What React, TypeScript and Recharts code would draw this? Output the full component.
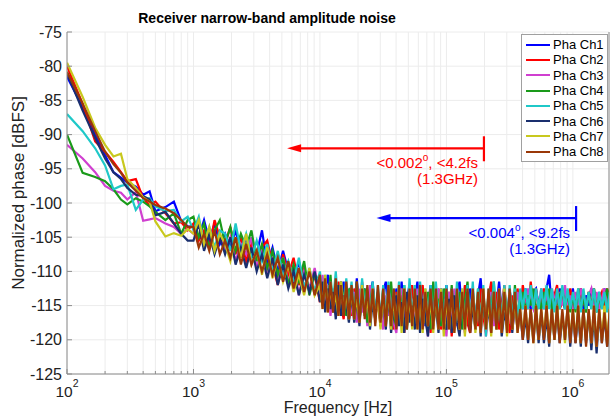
import {
  CartesianGrid,
  Legend,
  Line,
  LineChart,
  ReferenceLine,
  XAxis,
  YAxis,
} from "recharts";

const FONT = "'Liberation Sans', Arial, Helvetica, sans-serif";
const AXIS = "#8c8c8c";
const TEXT = "#222";

// FFT bin frequencies [Hz]: sparse low bins, 24 bins/decade up to 10 kHz, 48 bins/decade above
const FREQ_LOW = [100, 133, 167, 200, 233, 267, 300, 350, 400, 450, 500, 600, 700, 800, 900];
const BIN_MANTISSA = [
  1, 1.049, 1.101, 1.155, 1.212, 1.271, 1.334, 1.4, 1.468, 1.54, 1.616, 1.695,
  1.778, 1.866, 1.957, 2.054, 2.154, 2.26, 2.371, 2.487, 2.61, 2.738, 2.873, 3.014,
  3.162, 3.318, 3.481, 3.652, 3.831, 4.019, 4.217, 4.424, 4.642, 4.87, 5.109, 5.36,
  5.623, 5.9, 6.19, 6.494, 6.813, 7.148, 7.499, 7.868, 8.254, 8.66, 9.085, 9.532,
];
const F_MIN = 100;
const F_MAX = 1.93e6;

const FREQ = [
  ...FREQ_LOW,
  ...BIN_MANTISSA.filter((_, k) => k % 2 === 0).map((m) => m * 1e3),
  ...[1e4, 1e5, 1e6].flatMap((d) => BIN_MANTISSA.map((m) => m * d)),
].filter((f) => f <= 1.96e6);

// Normalized phase [dBFS] per channel
const CH1 = [
  -81.5, -86, -90, -93, -95.5, -96.3, -97.0, -97.6, -98.8, -98.3, -101.2, -100.6, -99.8, -102.7, -103.4,
  -103.5, -105, -102.5, -105.5, -103, -106, -104.5, -106.5, -104, -107.5, -105, -108,
  -107.5, -104, -109, -106.5, -110, -107, -110, -111.5, -108.5, -112.5, -110, -113,
  -111, -114.5, -112.5, -110.5, -115, -113, -116, -112, -114.5, -111.5, -116, -113.5,
  -112, -115.5, -111, -116.5, -114, -112.5, -117, -113.5, -111.5, -116, -114.5, -117.5,
  -113, -111.5, -116.5, -114, -118, -112.5, -115.5, -111.5, -117, -114, -112, -117.5,
  -114, -111.5, -117, -113, -118, -115, -112, -116.5, -113.5, -118.5, -112.5, -115.5,
  -112, -117, -114.5, -118.5, -113, -111.5, -116.5, -113.5, -118, -112.5, -115, -117.5,
  -113.5, -111, -116.5, -118, -114, -112, -117.5, -115, -111.5, -116, -113, -118,
  -112.5, -116.5, -114, -117.5, -113, -115.5, -112.5, -114.5, -115.5, -113, -112.5, -115,
  -113.5, -115.5, -112.5, -110.5, -115.5, -113, -115, -112.5, -114, -115.5, -113, -115,
  -112.5, -115.5, -114, -112.5, -115.5, -113.5, -115, -112.5, -114.5, -115.5, -113, -115, -112.5, -115.5, -114,
];
const CH2 = [
  -80, -85.5, -91, -92.5, -94, -95.5, -96.8, -96.5, -99.3, -100.3, -99.8, -101.5, -103, -102.8, -104,
  -103, -105.5, -104, -106.5, -102.5, -105, -106, -103.5, -107.5, -105, -108.5, -106,
  -108, -106.5, -105.5, -109, -112, -107.5, -110.5, -108, -112, -109.5, -113, -110.5,
  -114.5, -111, -113, -115.5, -112, -116, -113.5, -111.5, -115, -117, -112.5, -114.5,
  -116.5, -112.5, -114, -117, -111.5, -115.5, -113, -117.5, -112, -116, -114.5, -118,
  -113.5, -117.5, -112, -115, -118.5, -113, -116.5, -112.5, -119, -114.5, -117, -112,
  -116, -118, -113.5, -112, -117.5, -115, -119, -113, -116.5, -112.5, -118.5, -114,
  -117, -113, -119.5, -114.5, -112.5, -118, -115.5, -112, -117.5, -119, -113.5, -116,
  -118, -112.5, -116.5, -119, -114, -111.5, -117.5, -113, -118.5, -115, -112, -117,
  -119, -113.5, -116, -112.5, -115.5, -112, -114.5, -115.5, -111.5, -115, -112.5, -115.5,
  -114, -112.5, -115.5, -113, -115, -113.5, -112, -115.5, -114.5, -113, -115.5, -112.5,
  -115, -113.5, -115.5, -112.5, -114.5, -115.5, -113, -115, -112.5, -115.5, -114, -113, -115.5, -112.5, -115,
];
const CH3 = [
  -91.5, -93.5, -95.5, -97.5, -98.2, -98.5, -99.5, -98.4, -102.6, -102.4, -102.2, -103, -103.5, -104.5, -103.8,
  -104.5, -103, -106, -104, -107, -104.5, -107, -105, -108.5, -106, -107.5, -105,
  -109.5, -106.5, -110, -107.5, -111.5, -108, -111.5, -109, -113.5, -110, -112.5, -109.5,
  -113.5, -110.5, -115, -112, -116.5, -112.5, -114, -116, -111.5, -115.5, -113, -117,
  -115.5, -113, -117.5, -112.5, -116, -114, -118, -112, -115, -117, -113.5, -116.5,
  -118.5, -113.5, -116.5, -113, -117.5, -119, -114, -112.5, -116, -118, -113.5, -115.5,
  -117, -112.5, -118.5, -114.5, -116, -119.5, -113, -117.5, -115, -112.5, -118, -114,
  -119.5, -113, -117.5, -112.5, -118, -114.5, -116.5, -119, -113.5, -117, -112.5, -118.5,
  -114, -117.5, -112.5, -119.5, -115, -113, -118, -116, -112.5, -118.5, -114, -117,
  -113, -118.5, -115.5, -113, -115, -113.5, -115.5, -112.5, -114.5, -115.5, -113, -115,
  -112.5, -115.5, -113.5, -115, -112.5, -114, -115.5, -113, -115, -112, -115.5, -113.5,
  -115.5, -113, -115, -112.5, -114, -115.5, -113.5, -112.5, -115, -113, -115.5, -114, -112.5, -115.5, -113,
];
const CH4 = [
  -90, -95.6, -96.2, -96.8, -98, -99.5, -100.2, -99.3, -99.8, -100.5, -101.3, -102.5, -101.5, -104.5, -102.5,
  -102, -105, -103, -106.5, -104, -102.5, -106, -103.5, -107, -104.5, -106.5, -104,
  -108.5, -106, -109.5, -107, -110.5, -108, -112, -109, -111.5, -108.5, -113.5, -110.5,
  -111.5, -115, -112.5, -114.5, -110.5, -116, -113, -115.5, -111.5, -114, -116.5, -112.5,
  -113.5, -116.5, -111.5, -117, -114, -112.5, -117.5, -115, -112, -116, -113.5, -117.5,
  -112.5, -117.5, -114.5, -111.5, -116.5, -118, -113, -115.5, -112, -118.5, -114, -116.5,
  -113.5, -117.5, -112, -118, -115, -113, -118.5, -111.5, -116, -114, -118, -112.5,
  -114, -118, -112, -117.5, -115.5, -113, -118.5, -114.5, -111.5, -117, -113.5, -118.5,
  -112.5, -117.5, -114.5, -118.5, -113, -116, -111.5, -118, -114, -117.5, -112.5, -116.5,
  -113.5, -118, -112, -117.5, -115.5, -113, -116, -113.5, -115, -112.5, -116, -114,
  -115.5, -113, -116, -112.5, -115.5, -114, -116, -113.5, -112.5, -115.5, -113, -116,
  -113.5, -116, -112.5, -115.5, -114, -116, -113, -115.5, -112.5, -116, -113.5, -115.5, -114, -112.5, -116,
];
const CH5 = [
  -87, -89.5, -92, -94.5, -98, -97.5, -97.3, -101, -99.5, -99.3, -100.5, -101.2, -101, -102.7, -102,
  -104, -102, -106, -103.5, -106.5, -104, -104.5, -107, -103, -107, -104.5, -108,
  -105.5, -108.5, -106, -110, -107, -110.5, -108.5, -111.5, -108, -112.5, -109.5, -113,
  -110, -114, -110.5, -115, -111.5, -114.5, -110, -115.5, -112, -115, -111, -116,
  -111.5, -116, -112, -116.5, -111, -115.5, -112.5, -117, -111.5, -116.5, -112, -117,
  -112, -116.5, -111.5, -117.5, -112.5, -116, -111.5, -117, -112, -117.5, -111, -117,
  -112, -117.5, -111.5, -116.5, -112.5, -117, -112, -118, -111.5, -117, -112.5, -117.5,
  -112, -117.5, -112.5, -118, -111.5, -117, -112.5, -118.5, -112, -117.5, -111.5, -118,
  -112.5, -118, -112, -119.5, -112.5, -117.5, -111.5, -118, -112.5, -117, -112, -118.5,
  -112, -117.5, -112.5, -118, -112.5, -115.5, -112.5, -115.5, -112, -115.5, -112.5, -115.5,
  -112.5, -115.5, -112, -115.5, -112.5, -116, -112.5, -115.5, -112, -115.5, -112.5, -115.5,
  -113, -115.5, -112.5, -116, -112.5, -115.5, -113, -115.5, -112.5, -116, -113, -115.5, -113, -116, -113,
];
const CH6 = [
  -81, -86.5, -90.5, -93.5, -95.5, -96.5, -97.8, -98.8, -99, -99.5, -101.8, -101.3, -103, -104.5, -105.5,
  -105.5, -103, -107, -104.5, -107.5, -105, -107.5, -105, -109, -106.5, -109.5, -106.5,
  -110, -107.5, -111, -108, -112, -109, -112.5, -110, -113.5, -110.5, -113, -110,
  -114.5, -111.5, -116, -112.5, -115.5, -113, -117, -112, -116.5, -113.5, -115, -117.5,
  -113, -117.5, -114, -118, -112.5, -116.5, -113.5, -118.5, -114.5, -117, -113, -118,
  -114, -118.5, -113, -119, -115.5, -113.5, -118, -114.5, -119, -113, -117.5, -115,
  -118.5, -113.5, -119, -114, -117, -119.5, -113.5, -118, -115, -119, -113, -117.5,
  -118.5, -114, -119, -113.5, -117.5, -119.5, -114.5, -118, -113, -119, -115, -118.5,
  -114, -119.5, -113.5, -118, -115.5, -119, -113, -118.5, -114.5, -119.5, -116, -118,
  -113.5, -119, -114.5, -118.5, -116, -120, -116.5, -120.5, -115.5, -120, -116, -120.5,
  -116, -120.5, -116.5, -121, -115.5, -120, -116, -120.5, -116.5, -120, -115.5, -121,
  -116, -120.5, -116.5, -121, -115.5, -120.5, -116, -121.5, -116.5, -122, -116, -120.5, -116.5, -121, -116,
];
const CH7 = [
  -79.5, -84.5, -89, -91.5, -93.2, -92.8, -96.5, -97.8, -99.2, -99.8, -102.7, -104.9, -104.4, -104.8, -103.8,
  -104.5, -102.5, -106, -103.5, -107, -104.5, -106, -108.5, -105, -108, -104.5, -109,
  -107, -110.5, -106.5, -111, -108, -111.5, -109, -113, -110.5, -113.5, -109.5, -113.5,
  -112, -115.5, -110.5, -116, -112.5, -115, -113.5, -116.5, -111.5, -116, -113, -117,
  -112.5, -117, -113.5, -117.5, -112, -116.5, -114, -118, -112.5, -117.5, -113.5, -118.5,
  -113, -118, -112.5, -118.5, -114, -117.5, -113, -119, -112.5, -118, -113.5, -118.5,
  -113, -118.5, -113.5, -119, -112.5, -118, -114, -119, -113, -118.5, -112.5, -119.5,
  -113.5, -118.5, -113, -119, -114, -118.5, -112.5, -119.5, -113.5, -118, -113, -119,
  -113.5, -119, -112.5, -118.5, -114, -119.5, -113, -118.5, -113.5, -119, -112.5, -119.5,
  -113, -118.5, -114, -119, -115.5, -119.5, -115, -120, -115.5, -120.5, -115, -120,
  -115.5, -119.5, -115, -120.5, -115.5, -120, -115, -119.5, -116, -120.5, -115, -120,
  -115.5, -120, -115, -120.5, -115.5, -120, -116, -120.5, -115, -121, -115.5, -120, -115, -120.5, -115.5,
];
const CH8 = [
  -80.8, -85.5, -89.5, -92.5, -94.3, -95.6, -97, -98.2, -99.3, -99.8, -100.3, -100.8, -101.5, -102.5, -103.5,
  -103.5, -106.5, -104.5, -107, -104, -107.5, -105.5, -108, -105, -109, -106, -109,
  -107, -110, -107.5, -110.5, -108, -111.5, -108.5, -112.5, -109.5, -113, -110, -113.5,
  -110.5, -115.5, -111, -116, -111.5, -116, -111, -116.5, -112, -116.5, -111.5, -117,
  -112, -117, -111.5, -117.5, -112.5, -117, -112, -117.5, -112.5, -118, -112, -117.5,
  -112.5, -118, -112, -118, -112.5, -118.5, -112, -118, -112.5, -118.5, -112.5, -118,
  -112.5, -118.5, -112, -118.5, -113, -118, -112.5, -118.5, -112.5, -118.5, -113, -118.5,
  -112.5, -118.5, -112.5, -119, -112.5, -118.5, -113, -118.5, -112.5, -119, -112.5, -118.5,
  -113, -119, -112.5, -118.5, -112.5, -119, -113, -118.5, -112.5, -119, -113, -119,
  -112.5, -118.5, -113, -119, -115.5, -120, -115, -120, -115.5, -120.5, -115, -120,
  -115.5, -120, -115, -120.5, -115.5, -120, -115, -120.5, -115.5, -120, -115, -120.5,
  -115.5, -120.5, -115, -120.5, -115.5, -121, -115.5, -120.5, -115, -121, -115.5, -120.5, -116, -121, -115.5,
];

const SERIES = [
  { key: "ch1", name: "Pha Ch1", color: "#0000ff", values: CH1 },
  { key: "ch2", name: "Pha Ch2", color: "#ff0000", values: CH2 },
  { key: "ch3", name: "Pha Ch3", color: "#d03fd0", values: CH3 },
  { key: "ch4", name: "Pha Ch4", color: "#1a9a1a", values: CH4 },
  { key: "ch5", name: "Pha Ch5", color: "#1fc8c8", values: CH5 },
  { key: "ch6", name: "Pha Ch6", color: "#1a2f6e", values: CH6 },
  { key: "ch7", name: "Pha Ch7", color: "#c8c81e", values: CH7 },
  { key: "ch8", name: "Pha Ch8", color: "#9a3808", values: CH8 },
];

const ROWS = FREQ.map((f, i) => {
  const row: Record<string, number> = { f };
  SERIES.forEach((s) => (row[s.key] = s.values[i]));
  return row;
});

const X_MAJOR = [1e2, 1e3, 1e4, 1e5, 1e6];
const X_TICKS = X_MAJOR.flatMap((d) => [1, 2, 3, 4, 5, 6, 7, 8, 9].map((m) => m * d)).filter(
  (f) => f <= F_MAX
);
const Y_TICKS = [-125, -120, -115, -110, -105, -100, -95, -90, -85, -80, -75];

// integrated jitter annotations: arrow from `to` back to `from` at `level`
const ANNOTATIONS = [
  { from: 5.5e3, to: 1.98e5, level: -92, color: "#ff0000", deg: "<0.002", fs: ", <4.2fs", carrier: "(1.3GHz)" },
  { from: 2.8e4, to: 1.06e6, level: -102.2, color: "#0000ff", deg: "<0.004", fs: ", <9.2fs", carrier: "(1.3GHz)" },
];

function arrowShape(a: (typeof ANNOTATIONS)[number]) {
  return (props: any) => {
    const { x1, y1, x2 } = props;
    const left = Math.min(x1, x2);
    const right = Math.max(x1, x2);
    const y = y1;
    return (
      <g>
        <line x1={left + 10} y1={y} x2={right} y2={y} stroke={a.color} strokeWidth={2.2} />
        <polygon
          points={`${left},${y} ${left + 14},${y - 4} ${left + 14},${y + 4}`}
          fill={a.color}
        />
        <line x1={right} y1={y - 12} x2={right} y2={y + 13} stroke={a.color} strokeWidth={2.2} />
        <text x={right - 6} y={y + 20} textAnchor="end" fontSize={15} fill={a.color} fontFamily={FONT}>
          {a.deg}
          <tspan fontSize={10} dy={-7}>
            o
          </tspan>
          <tspan dy={7}>{a.fs}</tspan>
        </text>
        <text x={right - 6} y={y + 36} textAnchor="end" fontSize={15} fill={a.color} fontFamily={FONT}>
          {a.carrier}
        </text>
      </g>
    );
  };
}

function XTick({ x, y, payload }: any) {
  const e = Math.log10(payload.value);
  const major = Math.abs(e - Math.round(e)) < 1e-6;
  return (
    <g>
      <line x1={x} x2={x} y1={y} y2={y - (major ? 5 : 3)} stroke={AXIS} />
      {major && (
        <text x={x} y={y + 23} textAnchor="middle" fontSize={15.5} fill={TEXT} fontFamily={FONT}>
          10
          <tspan fontSize={10.5} dy={-10}>
            {Math.round(e)}
          </tspan>
        </text>
      )}
    </g>
  );
}

function TopTick({ x, y, payload }: any) {
  const e = Math.log10(payload.value);
  const major = Math.abs(e - Math.round(e)) < 1e-6;
  return <line x1={x} x2={x} y1={y} y2={y + (major ? 5 : 3)} stroke={AXIS} />;
}

function YTick({ x, y, payload }: any) {
  return (
    <g>
      <line x1={x + 5} x2={x + 10} y1={y} y2={y} stroke={AXIS} />
      <text x={x} y={y} dy={5.5} textAnchor="end" fontSize={16} fill={TEXT} fontFamily={FONT}>
        {payload.value}
      </text>
    </g>
  );
}

const renderLegend = () => (
  <div
    style={{
      boxSizing: "border-box",
      width: 87,
      height: 128,
      border: "1px solid #a0a0a0",
      background: "#fff",
      paddingTop: 2,
      fontFamily: FONT,
    }}
  >
    {SERIES.map((s) => (
      <div key={s.key} style={{ display: "flex", alignItems: "center", height: 15.3 }}>
        <span
          style={{
            display: "inline-block",
            width: 24,
            height: 0,
            borderTop: `2px solid ${s.color}`,
            marginLeft: 4,
            marginRight: 3,
          }}
        />
        <span style={{ fontSize: 13, color: "#000", lineHeight: "15px", whiteSpace: "nowrap" }}>
          {s.name}
        </span>
      </div>
    ))}
  </div>
);

export default function App() {
  return (
    <div
      style={{
        position: "absolute",
        left: 0,
        top: 0,
        width: 610,
        height: 417,
        overflow: "hidden",
        background: "#fff",
        fontFamily: FONT,
      }}
    >
      <div
        style={{
          position: "absolute",
          left: 0,
          top: 10.5,
          width: 534,
          textAlign: "center",
          fontWeight: "bold",
          fontSize: 14,
          lineHeight: "14px",
          color: "#000",
        }}
      >
        Receiver narrow-band amplitude noise
      </div>
      <LineChart
        width={610}
        height={417}
        data={ROWS}
        margin={{ top: 32, right: 1, bottom: 0, left: 10 }}
      >
        <CartesianGrid stroke="#ececec" />
        <XAxis
          dataKey="f"
          type="number"
          scale="log"
          domain={[F_MIN, F_MAX]}
          allowDataOverflow
          ticks={X_TICKS}
          interval={0}
          height={43}
          tickSize={0}
          tickMargin={0}
          tickLine={false}
          tick={<XTick />}
          axisLine={{ stroke: AXIS }}
          label={{
            content: () => (
              <text x={338} y={413} textAnchor="middle" fontSize={16} fill={TEXT} fontFamily={FONT}>
                Frequency [Hz]
              </text>
            ),
          }}
        />
        <XAxis
          xAxisId="top"
          orientation="top"
          type="number"
          scale="log"
          domain={[F_MIN, F_MAX]}
          allowDataOverflow
          ticks={X_TICKS}
          interval={0}
          height={0}
          tickSize={0}
          tickMargin={0}
          tickLine={false}
          tick={<TopTick />}
          axisLine={{ stroke: AXIS }}
        />
        <YAxis
          type="number"
          domain={[-125, -75]}
          allowDataOverflow
          ticks={Y_TICKS}
          interval={0}
          width={57}
          tickSize={0}
          tickMargin={5}
          tickLine={false}
          tick={<YTick />}
          axisLine={{ stroke: AXIS }}
          label={{
            content: () => (
              <text
                x={24}
                y={193}
                transform="rotate(-90 24 193)"
                textAnchor="middle"
                fontSize={17}
                fill={TEXT}
                fontFamily={FONT}
              >
                Normalized phase [dBFS]
              </text>
            ),
          }}
        />
        <ReferenceLine x={F_MAX} stroke={AXIS} />
        {SERIES.map((s) => (
          <Line
            key={s.key}
            type="linear"
            dataKey={s.key}
            name={s.name}
            stroke={s.color}
            strokeWidth={2.2}
            dot={false}
            activeDot={false}
            isAnimationActive={false}
          />
        ))}
        {ANNOTATIONS.map((a, i) => (
          <ReferenceLine
            key={i}
            segment={[
              { x: a.from, y: a.level },
              { x: a.to, y: a.level },
            ]}
            shape={arrowShape(a)}
          />
        ))}
        <Legend
          layout="vertical"
          align="center"
          verticalAlign="middle"
          content={renderLegend}
          wrapperStyle={{ left: 521, top: 34, width: 87, height: 128 }}
        />
      </LineChart>
    </div>
  );
}
